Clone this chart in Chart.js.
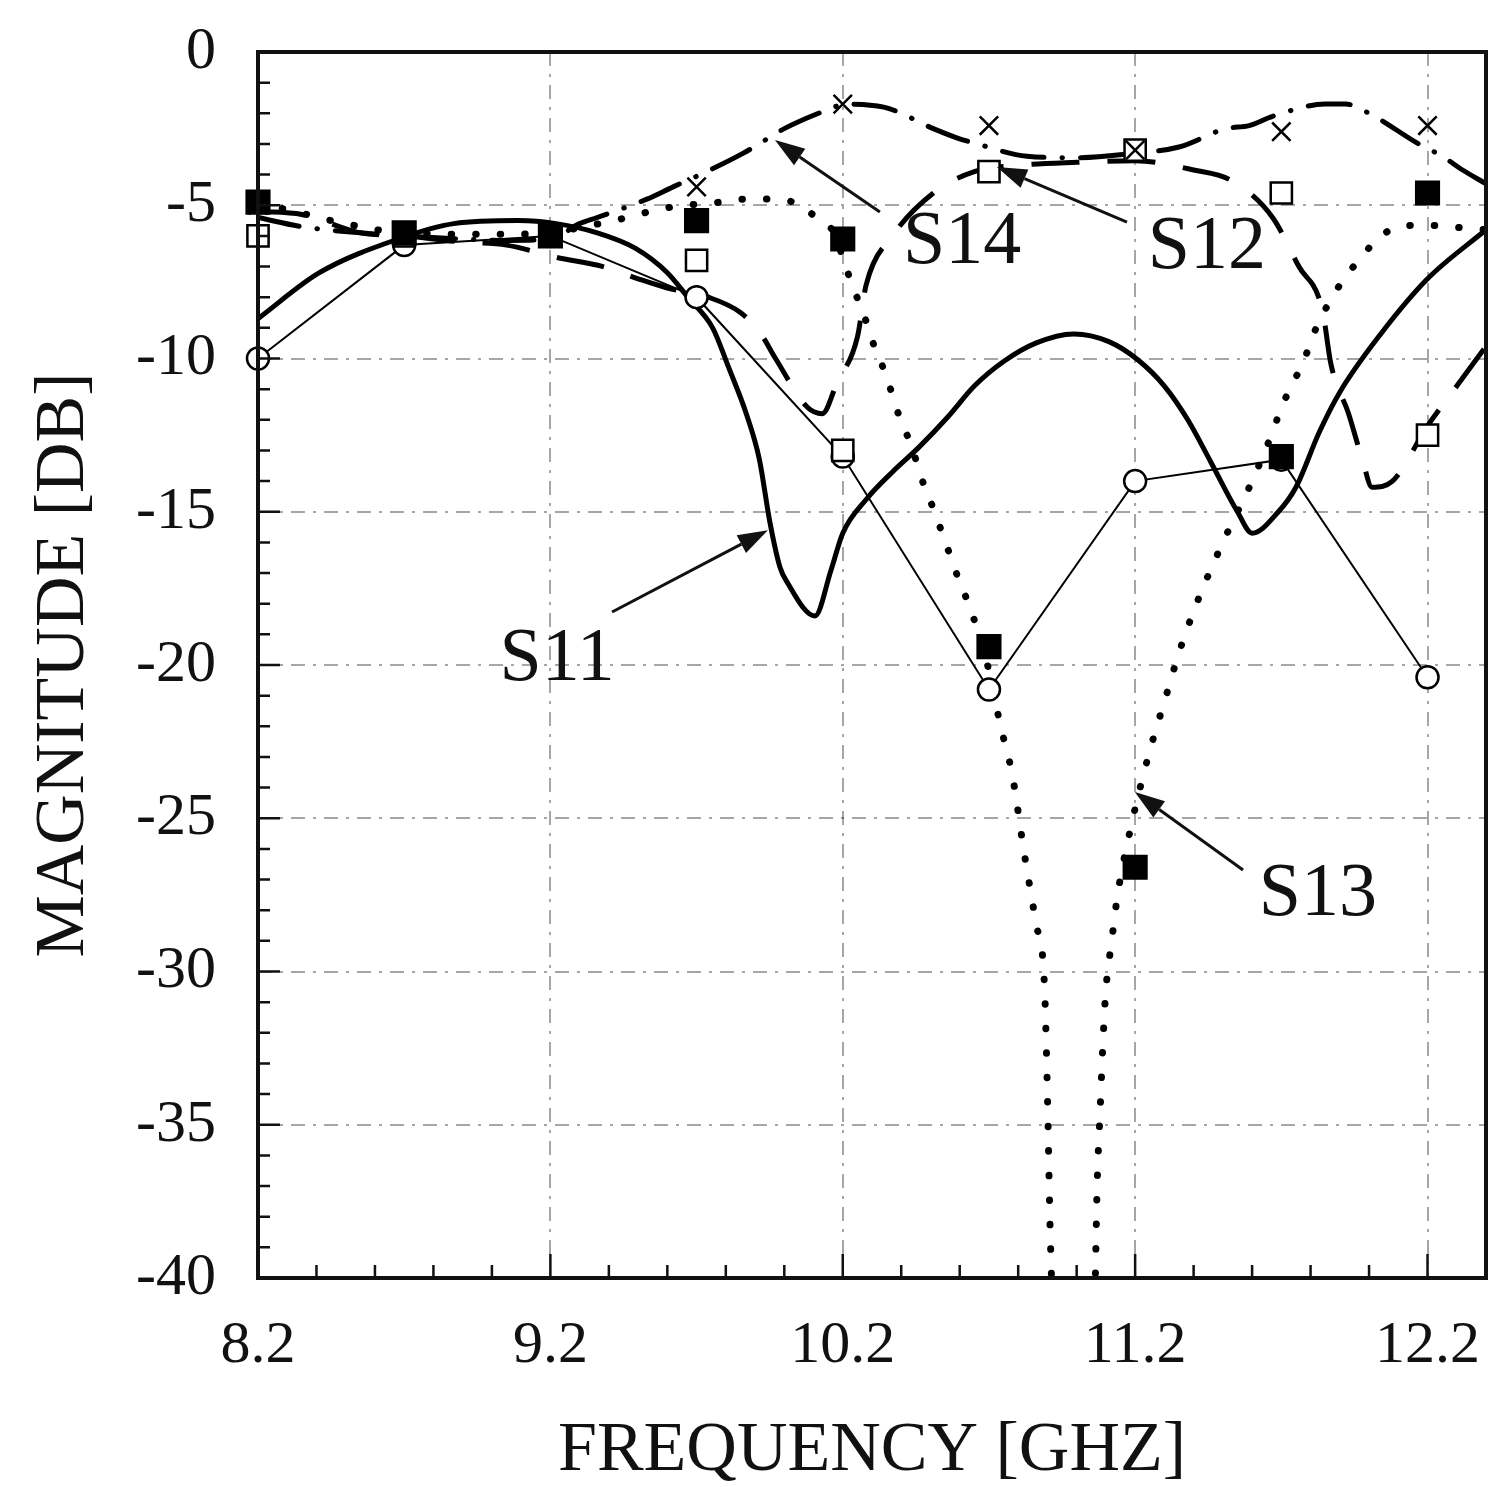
<!DOCTYPE html>
<html>
<head>
<meta charset="utf-8">
<script src="https://cdn.jsdelivr.net/npm/chart.js@4.4.1/dist/chart.umd.min.js"></script>
<style>
  html, body { margin: 0; background: #fff; overflow: hidden; }
  #wrap { width: 1488px; height: 1487px; }
  canvas { display: block; }
</style>
</head>
<body>
<div id="wrap"><canvas id="sparams"></canvas></div>
<script>
// measured points (markers)
const freqMeas = [8.2, 8.7, 9.2, 9.7, 10.2, 10.7, 11.2, 11.7, 12.2];
const s11Meas = [-10.0, -6.3, -6.0, -8.0, -13.2, -20.8, -14.0, -13.3, -20.4];
const s12Meas = [-6.0, -6.0, -6.0, -6.8, -13.0, -3.9, -3.2, -4.6, -12.5];
const s13Meas = [-4.9, -5.9, -6.0, -5.5, -6.1, -19.4, -26.6, -13.2, -4.6];
const s14Meas = [-5.0, -6.0, -6.0, -4.4, -1.7, -2.4, -3.2, -2.6, -2.4];

// simulated curves
const s11SimF = [8.2, 8.41, 8.68, 8.87, 9.09, 9.22, 9.36, 9.49, 9.6, 9.67, 9.755, 9.81, 9.87, 9.915, 9.95, 9.985, 10.01, 10.105, 10.16, 10.2, 10.28, 10.37, 10.46, 10.56, 10.65, 10.75, 10.86, 10.99, 11.11, 11.21, 11.3, 11.38, 11.46, 11.55, 11.6, 11.69, 11.75, 11.83, 11.9, 12.04, 12.2, 12.4];
const s11Sim = [-8.7, -7.2, -6.1, -5.6, -5.5, -5.6, -5.9, -6.4, -7.2, -8.0, -9.0, -10.3, -11.8, -13.3, -15.3, -16.8, -17.3, -18.4, -16.9, -15.7, -14.6, -13.7, -12.9, -11.9, -10.9, -10.1, -9.5, -9.2, -9.45, -10.05, -10.9, -12.0, -13.4, -15.0, -15.7, -15.0, -14.2, -12.4, -11.1, -9.2, -7.4, -5.8];

const s12SimF = [8.2, 8.35, 8.55, 8.7, 8.9, 9.05, 9.22, 9.38, 9.5, 9.6, 9.74, 9.85, 9.92, 9.97, 10.08, 10.13, 10.18, 10.25, 10.28, 10.37, 10.51, 10.65, 10.8, 11.0, 11.2, 11.4, 11.53, 11.67, 11.76, 11.84, 11.87, 11.93, 11.98, 12.01, 12.08, 12.2, 12.3, 12.4];
const s12Sim = [-5.2, -5.3, -5.9, -6.0, -6.2, -6.3, -6.7, -7.0, -7.4, -7.7, -8.0, -8.5, -9.2, -10.0, -11.6, -11.8, -10.8, -9.3, -7.6, -6.0, -4.6, -3.9, -3.7, -3.6, -3.55, -3.85, -4.2, -5.4, -7.0, -8.4, -10.2, -11.8, -13.4, -14.2, -14.0, -12.2, -10.9, -9.6];

const s13SimF = [8.2, 8.28, 8.45, 8.7, 9.0, 9.2, 9.34, 9.42, 9.5, 9.62, 9.78, 9.86, 9.95, 10.03, 10.11, 10.17, 10.21, 10.24, 10.27, 10.3, 10.33, 10.36, 10.39, 10.42, 10.45, 10.48, 10.51, 10.54, 10.57, 10.6, 10.63, 10.69, 10.74, 10.78, 10.82, 10.86, 10.89, 10.9, 10.91, 10.925, 11.06, 11.065, 11.07, 11.08, 11.09, 11.1, 11.12, 11.14, 11.19, 11.25, 11.3, 11.35, 11.41, 11.5, 11.6, 11.67, 11.7, 11.74, 11.78, 11.81, 11.9, 11.96, 12.03, 12.1, 12.19, 12.27, 12.4];
const s13Sim = [-5.0, -5.1, -5.5, -5.9, -5.95, -5.9, -5.65, -5.5, -5.3, -5.05, -4.9, -4.8, -4.8, -4.9, -5.4, -5.9, -7.0, -7.8, -8.5, -9.4, -10.1, -10.9, -11.8, -12.5, -13.3, -14.2, -14.9, -15.7, -16.5, -17.3, -18.0, -19.8, -22.0, -23.6, -26.1, -28.4, -30.5, -34.0, -38.7, -42.0, -42.0, -39.4, -37.0, -34.6, -32.3, -30.6, -29.0, -27.5, -25.1, -22.8, -21.2, -19.6, -18.0, -16.0, -14.0, -12.4, -11.6, -10.8, -10.0, -9.2, -7.6, -6.85, -6.1, -5.7, -5.65, -5.7, -5.8];

const s14SimF = [8.2, 8.35, 8.55, 8.7, 8.9, 9.05, 9.2, 9.3, 9.36, 9.53, 9.62, 9.69, 9.86, 9.93, 10.0, 10.17, 10.2, 10.34, 10.51, 10.59, 10.66, 10.83, 11.0, 11.2, 11.35, 11.51, 11.59, 11.67, 11.85, 11.92, 12.0, 12.17, 12.25, 12.32, 12.4];
const s14Sim = [-5.4, -5.7, -5.9, -6.0, -6.1, -6.15, -6.1, -5.6, -5.4, -4.8, -4.4, -4.1, -3.3, -2.9, -2.5, -1.8, -1.7, -1.8, -2.5, -2.8, -3.0, -3.4, -3.45, -3.3, -3.1, -2.5, -2.4, -2.1, -1.7, -1.7, -2.0, -3.0, -3.4, -3.85, -4.3];

const xTicks = [8.2, 9.2, 10.2, 11.2, 12.2];

// curve labels with arrows, in data coordinates
const callouts = [
  { text: 'S14', at: [10.608, -6.23], from: [10.327, -5.22], to: [9.968, -2.87] },
  { text: 'S12', at: [11.445, -6.39], from: [11.172, -5.55], to: [10.727, -3.75] },
  { text: 'S11', at: [9.223, -19.84], from: [9.411, -18.27], to: [9.944, -15.6] },
  { text: 'S13', at: [11.825, -27.5], from: [11.569, -26.69], to: [11.199, -24.14] }
];

const pts = (fs, vs) => fs.map((f, i) => ({ x: f, y: vs[i] }));

const overlay = {
  id: 'overlay',
  afterDatasetsDraw(chart) {
    const { ctx, chartArea: a, scales: { x, y } } = chart;
    ctx.save();
    ctx.strokeStyle = '#111';
    ctx.lineWidth = 2.5;
    ctx.beginPath();
    for (let i = 0; i <= 21; i++) {
      const px = x.getPixelForValue(8.2 + i * 0.2);
      const len = i % 5 === 0 ? 24 : 13;
      ctx.moveTo(px, a.bottom);
      ctx.lineTo(px, a.bottom - len);
    }
    for (let d = -40; d <= 0; d++) {
      const py = y.getPixelForValue(d);
      const len = d % 5 === 0 ? 22 : 12;
      ctx.moveTo(a.left, py);
      ctx.lineTo(a.left + len, py);
    }
    ctx.stroke();

    ctx.lineWidth = 4;
    ctx.strokeRect(a.left, a.top, a.right - a.left, a.bottom - a.top);

    ctx.fillStyle = '#111';
    ctx.font = '76px "Liberation Serif"';
    ctx.textAlign = 'center';
    ctx.textBaseline = 'middle';
    ctx.lineWidth = 3;
    callouts.forEach(c => {
      ctx.fillText(c.text, x.getPixelForValue(c.at[0]), y.getPixelForValue(c.at[1]));
      const x0 = x.getPixelForValue(c.from[0]), y0 = y.getPixelForValue(c.from[1]);
      const x1 = x.getPixelForValue(c.to[0]), y1 = y.getPixelForValue(c.to[1]);
      const ang = Math.atan2(y1 - y0, x1 - x0);
      const hl = 30, hw = 10;
      const bx = x1 - hl * Math.cos(ang), by = y1 - hl * Math.sin(ang);
      ctx.beginPath();
      ctx.moveTo(x0, y0);
      ctx.lineTo(bx, by);
      ctx.stroke();
      ctx.beginPath();
      ctx.moveTo(x1, y1);
      ctx.lineTo(bx + hw * Math.sin(ang), by - hw * Math.cos(ang));
      ctx.lineTo(bx - hw * Math.sin(ang), by + hw * Math.cos(ang));
      ctx.closePath();
      ctx.fill();
    });
    ctx.restore();
  }
};

Chart.defaults.font.family = '"Liberation Serif", serif';
Chart.defaults.color = '#111';

const sim = (label, fs, vs, extra) => Object.assign({
  label,
  data: pts(fs, vs),
  borderColor: '#000',
  borderWidth: 5,
  pointRadius: 0,
  cubicInterpolationMode: 'monotone',
  fill: false
}, extra);

const meas = (label, vs, extra) => Object.assign({
  label,
  data: pts(freqMeas, vs),
  showLine: false,
  borderColor: '#000',
  pointBorderColor: '#000',
  pointBorderWidth: 2.5,
  clip: false
}, extra);

new Chart(document.getElementById('sparams'), {
  type: 'line',
  data: {
    datasets: [
      sim('S11 sim', s11SimF, s11Sim, { order: 10 }),
      sim('S12 sim', s12SimF, s12Sim, { order: 11, borderDash: [48, 28] }),
      sim('S13 sim', s13SimF, s13Sim, { order: 12, borderWidth: 7, borderDash: [0.5, 24], borderCapStyle: 'round' }),
      sim('S14 sim', s14SimF, s14Sim, { order: 13, borderDash: [42, 18, 0.5, 18], borderCapStyle: 'round' }),
      meas('S11', s11Meas, { order: 4, showLine: true, borderWidth: 2, pointStyle: 'circle', pointRadius: 11, pointBackgroundColor: '#fff' }),
      meas('S12', s12Meas, { order: 3, pointStyle: 'rect', pointRadius: 15, pointBackgroundColor: '#fff' }),
      meas('S14', s14Meas, { order: 2, pointStyle: 'crossRot', pointRadius: 13 }),
      meas('S13', s13Meas, { order: 1, pointStyle: 'rect', pointRadius: 16, pointBackgroundColor: '#000' })
    ]
  },
  options: {
    responsive: true,
    maintainAspectRatio: false,
    animation: false,
    layout: { autoPadding: false, padding: { top: 52, right: 2, left: 0, bottom: 0 } },
    plugins: {
      legend: { display: false },
      tooltip: { enabled: false }
    },
    scales: {
      x: {
        type: 'linear',
        min: 8.2,
        max: 12.4,
        afterBuildTicks: s => { s.ticks = xTicks.map(v => ({ value: v })); },
        afterFit: s => { s.height = 209; s.paddingLeft = 0; s.paddingRight = 0; },
        ticks: {
          padding: 38,
          font: { size: 60, lineHeight: 1 },
          callback: v => v.toFixed(1)
        },
        grid: { drawTicks: false, color: 'rgba(0,0,0,0.35)', lineWidth: 2 },
        border: { display: false, dash: [14, 8, 3, 8] },
        title: {
          display: true,
          text: 'FREQUENCY [GHZ]',
          font: { size: 70, lineHeight: 1 },
          padding: { top: 0, bottom: 0 }
        }
      },
      y: {
        min: -40,
        max: 0,
        afterFit: s => { s.width = 258; s.paddingTop = 0; s.paddingBottom = 0; },
        ticks: {
          stepSize: 5,
          padding: 42,
          font: { size: 60, lineHeight: 1 },
          callback: v => String(v)
        },
        grid: { drawTicks: false, color: 'rgba(0,0,0,0.35)', lineWidth: 2 },
        border: { display: false, dash: [14, 8, 3, 8] },
        title: {
          display: true,
          text: 'MAGNITUDE [DB]',
          font: { size: 70, lineHeight: 1 },
          padding: { top: 30, bottom: 0 }
        }
      }
    }
  },
  plugins: [overlay]
});
</script>
</body>
</html>
